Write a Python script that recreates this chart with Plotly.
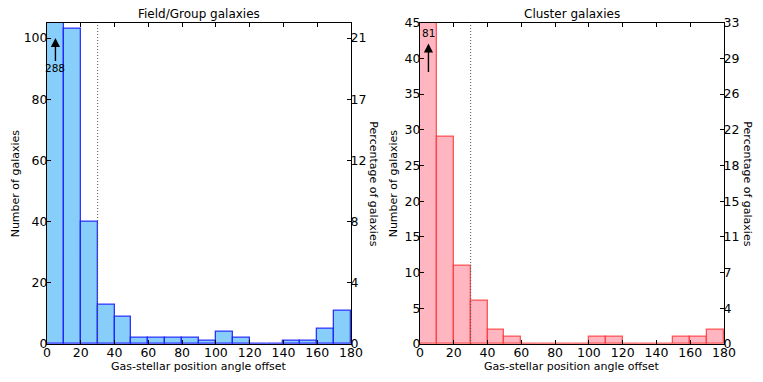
import plotly.graph_objects as go

# histogram data (10 degree bins)
bin_left = list(range(0, 180, 10))
field_counts = [288, 103, 40, 13, 9, 2, 2, 2, 2, 1, 4, 2, 0, 0, 1, 1, 5, 11]
cluster_counts = [81, 29, 11, 6, 2, 1, 0, 0, 0, 0, 1, 1, 0, 0, 0, 1, 1, 2]

x_ticks = list(range(0, 181, 20))
field_count_ticks = [0, 20, 40, 60, 80, 100]
field_pct_labels = ["0", "4", "8", "12", "17", "21"]
cluster_count_ticks = [0, 5, 10, 15, 20, 25, 30, 35, 40, 45]
cluster_pct_labels = ["0", "4", "7", "11", "15", "18", "22", "26", "29", "33"]

field_ymax = 105
cluster_ymax = 45
cut_angle = 30

# page body has an 8px margin, so the figure is a bit smaller than the window
OFF = 8
W, H = 763 - OFF, 382 - OFF
FONT = "DejaVu Sans"

def px_x(p):
    return (p - OFF) / W

def px_y(p):
    return (H - (p - OFF)) / H

centers = [b + 5 for b in bin_left]

fig = go.Figure()

fig.add_trace(go.Bar(x=centers, y=field_counts, width=10, xaxis="x", yaxis="y",
                     marker=dict(color="#87cefa", line=dict(color="rgba(20,20,255,0.85)", width=1.3)),
                     showlegend=False))
fig.add_trace(go.Bar(x=centers, y=cluster_counts, width=10, xaxis="x2", yaxis="y3",
                     marker=dict(color="#ffb6c1", line=dict(color="rgba(255,40,40,0.75)", width=1.3)),
                     showlegend=False))
# invisible traces so the percentage axes are drawn
fig.add_trace(go.Scatter(x=[0], y=[0], xaxis="x", yaxis="y2", mode="markers",
                         marker=dict(opacity=0), showlegend=False, hoverinfo="skip"))
fig.add_trace(go.Scatter(x=[0], y=[0], xaxis="x2", yaxis="y4", mode="markers",
                         marker=dict(opacity=0), showlegend=False, hoverinfo="skip"))

dom_y = [px_y(344), px_y(22.7)]
dom_l = [px_x(47), px_x(351)]
dom_r = [px_x(420), px_x(724)]

tickfont = dict(family=FONT, size=12.5, color="black")

def xax(dom, anchor):
    return dict(domain=dom, anchor=anchor, range=[0, 180], tickvals=x_ticks,
                ticks="inside", ticklen=4, tickcolor="black", mirror="ticks",
                showline=True, linecolor="black", linewidth=1, automargin=False,
                ticklabelstandoff=-3,
                showgrid=False, zeroline=False, tickfont=tickfont)

def yax(ymax, tv, anchor):
    return dict(domain=dom_y, anchor=anchor, range=[0, ymax], tickvals=tv,
                ticks="inside", ticklen=4, tickcolor="black", automargin=False,
                showline=True, linecolor="black", linewidth=1, ticklabelstandoff=-4,
                showgrid=False, zeroline=False, tickfont=tickfont)

def yax_pct(ymax, tv, tt, anchor, over):
    return dict(domain=dom_y, anchor=anchor, overlaying=over, side="right",
                range=[0, ymax], tickvals=tv, ticktext=tt, automargin=False,
                ticks="inside", ticklen=4, tickcolor="black", ticklabelstandoff=-4,
                showline=True, linecolor="black", linewidth=1,
                showgrid=False, zeroline=False, tickfont=tickfont)

fig.update_layout(
    width=W, height=H, margin=dict(l=0, r=0, t=0, b=0, autoexpand=False),
    paper_bgcolor="white", plot_bgcolor="white",
    bargap=0, barmode="overlay",
    font=dict(family=FONT, color="black"),
    xaxis=xax(dom_l, "y"),
    yaxis=yax(field_ymax, field_count_ticks, "x"),
    yaxis2=yax_pct(field_ymax, field_count_ticks, field_pct_labels, "x", "y"),
    xaxis2=xax(dom_r, "y3"),
    yaxis3=yax(cluster_ymax, cluster_count_ticks, "x2"),
    yaxis4=yax_pct(cluster_ymax, cluster_count_ticks, cluster_pct_labels, "x2", "y3"),
)

# dotted cut line at 30 degrees
for xr, yr in [("x", "y"), ("x2", "y3")]:
    fig.add_shape(type="line", x0=cut_angle, x1=cut_angle, y0=0, y1=1,
                  xref=xr, yref=yr + " domain",
                  line=dict(color="#555555", width=1, dash="1px,2px"))

ann = []
title_font = dict(family=FONT, size=12, color="black")
lab = dict(family=FONT, size=11, color="black")
yc = (dom_y[0] + dom_y[1]) / 2
for dom, title in [(dom_l, "Field/Group galaxies"), (dom_r, "Cluster galaxies")]:
    xc = (dom[0] + dom[1]) / 2
    ann.append(dict(text=title, x=xc, y=px_y(14), xref="paper", yref="paper",
                    showarrow=False, font=title_font, xanchor="center", yanchor="middle"))
    ann.append(dict(text="Gas-stellar position angle offset", x=xc, y=px_y(366),
                    xref="paper", yref="paper", showarrow=False, font=lab,
                    xanchor="center", yanchor="middle"))
for xp in [15, 393]:
    ann.append(dict(text="Number of galaxies", x=px_x(xp), y=yc, xref="paper", yref="paper",
                    showarrow=False, font=lab, textangle=-90, xanchor="center", yanchor="middle"))
for xp in [374, 748]:
    ann.append(dict(text="Percentage of galaxies", x=px_x(xp), y=yc, xref="paper", yref="paper",
                    showarrow=False, font=lab, textangle=90, xanchor="center", yanchor="middle"))

# overflow arrows for the clipped first bin
ann.append(dict(text="", x=5, y=100, ax=5, ay=92, xref="x", yref="y", axref="x", ayref="y",
                showarrow=True, arrowhead=2, arrowsize=1.3, arrowwidth=1.4, arrowcolor="black"))
ann.append(dict(text=str(field_counts[0]), x=5, y=90.3, xref="x", yref="y", showarrow=False,
                font=dict(family=FONT, size=10.5, color="black")))
ann.append(dict(text="", x=5, y=42.1, ax=5, ay=37.9, xref="x2", yref="y3", axref="x2", ayref="y3",
                showarrow=True, arrowhead=2, arrowsize=1.3, arrowwidth=1.4, arrowcolor="black"))
ann.append(dict(text=str(cluster_counts[0]), x=5, y=43.5, xref="x2", yref="y3", showarrow=False,
                font=dict(family=FONT, size=10.5, color="black")))

fig.update_layout(annotations=ann)

fig.write_html("out.html")
